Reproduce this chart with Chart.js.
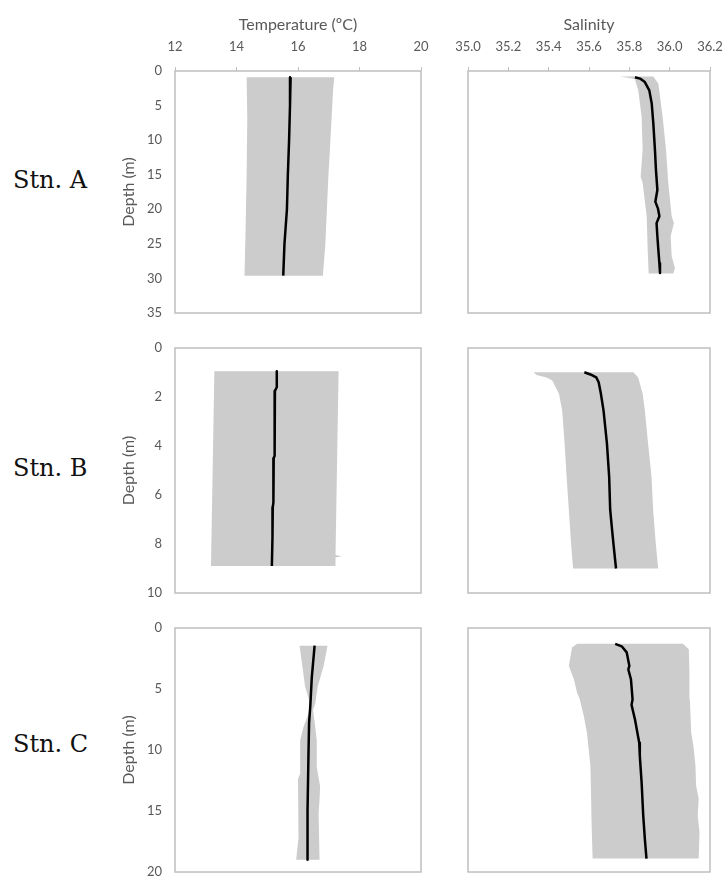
<!DOCTYPE html>
<html>
<head>
<meta charset="utf-8">
<script src="https://cdn.jsdelivr.net/npm/chart.js@4.4.1/dist/chart.umd.min.js"></script>
<style>
  body { margin: 0; width: 724px; height: 876px; overflow: hidden; background: #fff; position: relative; }
  canvas { position: absolute; }
  .stn { position: absolute; left: 13px; font: 24px "DejaVu Serif", serif; line-height: 24px; color: #111; }
</style>
</head>
<body>
<div class="stn" style="top:168px">Stn. A</div>
<div class="stn" style="top:456px">Stn. B</div>
<div class="stn" style="top:732px">Stn. C</div>

<canvas id="tempA" width="341" height="334" style="left:100px;top:0"></canvas>
<canvas id="salA" width="305" height="334" style="left:430px;top:0"></canvas>
<canvas id="tempB" width="341" height="287" style="left:100px;top:327px"></canvas>
<canvas id="salB" width="305" height="287" style="left:430px;top:327px"></canvas>
<canvas id="tempC" width="341" height="286" style="left:100px;top:607px"></canvas>
<canvas id="salC" width="305" height="286" style="left:430px;top:607px"></canvas>

<script>
// tick labels
const tempTicks = [12, 14, 16, 18, 20];
const salTicks = [35.0, 35.2, 35.4, 35.6, 35.8, 36.0, 36.2];
const depthTicksA = [0, 5, 10, 15, 20, 25, 30, 35];
const depthTicksB = [0, 2, 4, 6, 8, 10];
const depthTicksC = [0, 5, 10, 15, 20];

// Stn. A - temperature
const tempDepthA = [0.9, 5, 10, 15, 20, 25, 29.6];
const tempMeanA = [15.76, 15.74, 15.71, 15.67, 15.64, 15.56, 15.52];
const tempLowDepthA = [0.9, 7, 15, 24, 29.6];
const tempLowA = [14.33, 14.35, 14.33, 14.29, 14.26];
const tempHighDepthA = [0.9, 2.8, 12, 15, 20, 25, 29.6];
const tempHighA = [17.18, 17.14, 17.03, 16.99, 16.94, 16.89, 16.81];

// Stn. A - salinity
const salDepthA = [0.9, 1.1, 1.6, 2.8, 4.7, 7.6, 11.4, 14.3, 17.2, 18.9, 19.9, 21.0, 22.0, 23.9, 25.9, 27.8, 29.2];
const salMeanA = [35.828, 35.853, 35.877, 35.899, 35.911, 35.919, 35.927, 35.932, 35.939, 35.929, 35.942, 35.949, 35.935, 35.939, 35.944, 35.949, 35.952];
const salLowDepthA = [0.8, 1.0, 1.2, 2.8, 6.6, 11.4, 15.3, 16.2, 21.0, 25.9, 29.3];
const salLowA = [35.753, 35.80, 35.828, 35.844, 35.861, 35.866, 35.856, 35.866, 35.886, 35.891, 35.896];
const salHighDepthA = [0.8, 1.8, 6.6, 11.4, 16.2, 21.0, 22.0, 23.9, 26.8, 28.5, 29.3];
const salHighA = [35.919, 35.944, 35.965, 35.982, 35.993, 36.010, 36.021, 36.005, 36.010, 36.026, 36.018];

// Stn. B - temperature
const tempDepthB = [0.95, 1.6, 1.75, 4.4, 4.5, 6.3, 6.5, 7.5, 7.7, 8.9];
const tempMeanB = [15.31, 15.31, 15.25, 15.24, 15.21, 15.20, 15.18, 15.18, 15.16, 15.15];
const tempLowDepthB = [0.95, 8.9];
const tempLowB = [13.28, 13.17];
const tempHighDepthB = [0.95, 8.45, 8.5, 8.55, 8.9];
const tempHighB = [17.32, 17.22, 17.42, 17.22, 17.21];

// Stn. B - salinity
const salDepthB = [0.99, 1.08, 1.2, 1.4, 1.87, 2.55, 3.9, 5.26, 6.6, 7.3, 7.97, 9.0];
const salMeanB = [35.577, 35.607, 35.636, 35.648, 35.659, 35.672, 35.689, 35.700, 35.705, 35.713, 35.721, 35.734];
const salLowDepthB = [0.99, 1.1, 1.2, 1.33, 1.87, 2.55, 3.9, 5.26, 6.6, 7.97, 9.0];
const salLowB = [35.325, 35.34, 35.39, 35.418, 35.451, 35.467, 35.479, 35.489, 35.500, 35.511, 35.521];
const salHighDepthB = [0.99, 1.2, 1.87, 2.55, 3.9, 5.26, 6.6, 7.97, 9.0];
const salHighB = [35.820, 35.844, 35.866, 35.877, 35.893, 35.910, 35.918, 35.931, 35.943];

// Stn. C - temperature
const tempDepthC = [1.45, 4.0, 6.4, 7.8, 10.5, 14.9, 19.0];
const tempMeanC = [16.54, 16.45, 16.40, 16.36, 16.34, 16.31, 16.31];
const tempLowDepthC = [1.45, 2.9, 4.8, 5.9, 6.9, 8.1, 9.2, 11.9, 12.4, 14.1, 14.6, 17.2, 19.0];
const tempLowC = [16.05, 16.13, 16.23, 16.36, 16.36, 16.18, 16.07, 16.07, 16.00, 16.00, 16.03, 16.02, 15.94];
const tempHighDepthC = [1.45, 3.15, 4.8, 6.2, 6.7, 8.1, 9.2, 11.4, 13.0, 14.1, 15.2, 19.0];
const tempHighC = [16.96, 16.83, 16.64, 16.56, 16.49, 16.56, 16.61, 16.61, 16.72, 16.70, 16.67, 16.70];

// Stn. C - salinity
const salDepthC = [1.3, 1.5, 2.0, 3.1, 3.4, 4.2, 5.85, 6.3, 7.5, 9.4, 10.5, 12.7, 15.4, 17.3, 18.9];
const salMeanC = [35.730, 35.762, 35.787, 35.800, 35.795, 35.808, 35.816, 35.811, 35.828, 35.849, 35.852, 35.861, 35.869, 35.877, 35.885];
const salLowDepthC = [1.3, 1.6, 3.1, 4.2, 5.3, 5.85, 7.2, 8.6, 9.9, 11.3, 13.5, 15.4, 17.3, 18.9];
const salLowC = [35.541, 35.516, 35.500, 35.525, 35.541, 35.554, 35.574, 35.590, 35.598, 35.607, 35.610, 35.612, 35.615, 35.618];
const salHighDepthC = [1.3, 1.75, 3.7, 5.85, 8.6, 9.7, 11.3, 12.9, 14.0, 15.4, 16.7, 18.9];
const salHighC = [36.066, 36.095, 36.098, 36.100, 36.107, 36.118, 36.128, 36.131, 36.144, 36.139, 36.148, 36.144];

Chart.defaults.font.family = 'Lato, "Open Sans", sans-serif';
Chart.defaults.color = '#595959';

const toPoints = (vals, depths) => vals.map((v, i) => ({ x: v, y: depths[i] }));

// band outline: down the low edge, back up the high edge
function bandShape(low, lowDepth, high, highDepth) {
  return toPoints(low, lowDepth).concat(toPoints(high, highDepth).reverse());
}

// grey frame around the plot area
const boxPlugin = {
  id: 'box',
  afterDatasetsDraw(chart) {
    const { ctx, chartArea: a } = chart;
    ctx.save();
    ctx.strokeStyle = '#bfbfbf';
    ctx.lineWidth = 1.5;
    ctx.strokeRect(a.left, a.top, a.right - a.left, a.bottom - a.top);
    ctx.restore();
  }
};

function profileChart(id, o) {
  const xAxis = {
    type: 'linear', min: o.xTicks[0], max: o.xTicks[o.xTicks.length - 1],
    display: o.top, position: 'top',
    afterBuildTicks: s => { s.ticks = o.xTicks.map(v => ({ value: v })); },
    ticks: { font: { size: 13 }, padding: 12, maxRotation: 0, callback: o.fmt },
    grid: { drawOnChartArea: false, tickLength: 4, color: '#bfbfbf' },
    border: { display: false },
    title: { display: true, text: o.title, font: { size: 16 }, padding: { top: 15, bottom: 0 } },
    afterFit: s => { s.height = o.top ? 71 : 0; }
  };
  const yAxis = {
    type: 'linear', reverse: true, min: 0, max: o.yTicks[o.yTicks.length - 1],
    display: o.left,
    afterBuildTicks: s => { s.ticks = o.yTicks.map(v => ({ value: v })); },
    ticks: { font: { size: 13 }, padding: 13 },
    grid: { display: false, drawTicks: false },
    border: { display: false },
    title: { display: true, text: 'Depth (m)', font: { size: 16 }, padding: { top: 19, bottom: 0 } },
    afterFit: s => { s.width = o.left ? 75 : 0; }
  };
  return new Chart(document.getElementById(id), {
    type: 'scatter',
    data: {
      datasets: [
        { data: o.mean, showLine: true, borderColor: '#000', borderWidth: 2.5,
          borderJoinStyle: 'round', pointRadius: 0, fill: false },
        { data: o.band, showLine: true, borderColor: 'rgba(0,0,0,0)', borderWidth: 1,
          backgroundColor: '#cccccc', pointRadius: 0, fill: 'shape' }
      ]
    },
    options: {
      responsive: false,
      animation: false,
      layout: { padding: o.pad },
      plugins: { legend: { display: false }, tooltip: { enabled: false } },
      scales: { x: xAxis, y: yAxis }
    },
    plugins: [boxPlugin]
  });
}

const fmtTemp = v => String(v);
const fmtSal = v => v.toFixed(1);
// plot area: temperature x 175-421, salinity x 468-710 (page pixels)
const padTemp = top => ({ left: 0, right: 20, top: top, bottom: 21 });
const padSal = top => ({ left: 38, right: 25, top: top, bottom: 21 });

profileChart('tempA', {
  mean: toPoints(tempMeanA, tempDepthA),
  band: bandShape(tempLowA, tempLowDepthA, tempHighA, tempHighDepthA),
  xTicks: tempTicks, yTicks: depthTicksA, fmt: fmtTemp, title: 'Temperature (ºC)',
  top: true, left: true, pad: padTemp(0)
});
profileChart('salA', {
  mean: toPoints(salMeanA, salDepthA),
  band: bandShape(salLowA, salLowDepthA, salHighA, salHighDepthA),
  xTicks: salTicks, yTicks: depthTicksA, fmt: fmtSal, title: 'Salinity',
  top: true, left: false, pad: padSal(0)
});
profileChart('tempB', {
  mean: toPoints(tempMeanB, tempDepthB),
  band: bandShape(tempLowB, tempLowDepthB, tempHighB, tempHighDepthB),
  xTicks: tempTicks, yTicks: depthTicksB, fmt: fmtTemp, title: '',
  top: false, left: true, pad: padTemp(21)
});
profileChart('salB', {
  mean: toPoints(salMeanB, salDepthB),
  band: bandShape(salLowB, salLowDepthB, salHighB, salHighDepthB),
  xTicks: salTicks, yTicks: depthTicksB, fmt: fmtSal, title: '',
  top: false, left: false, pad: padSal(21)
});
profileChart('tempC', {
  mean: toPoints(tempMeanC, tempDepthC),
  band: bandShape(tempLowC, tempLowDepthC, tempHighC, tempHighDepthC),
  xTicks: tempTicks, yTicks: depthTicksC, fmt: fmtTemp, title: '',
  top: false, left: true, pad: padTemp(21)
});
profileChart('salC', {
  mean: toPoints(salMeanC, salDepthC),
  band: bandShape(salLowC, salLowDepthC, salHighC, salHighDepthC),
  xTicks: salTicks, yTicks: depthTicksC, fmt: fmtSal, title: '',
  top: false, left: false, pad: padSal(21)
});
</script>
</body>
</html>
